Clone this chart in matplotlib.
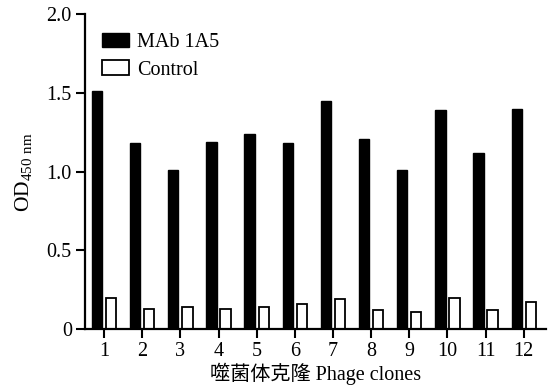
import matplotlib
matplotlib.use("Agg")
import matplotlib.pyplot as plt
import numpy as np

clones = [str(i) for i in range(1, 13)]
mab_1a5 = [1.51, 1.18, 1.01, 1.19, 1.24, 1.18, 1.45, 1.21, 1.01, 1.39, 1.12, 1.40]
control = [0.20, 0.13, 0.14, 0.13, 0.14, 0.16, 0.19, 0.12, 0.11, 0.20, 0.12, 0.17]
yticks = [0, 0.5, 1.0, 1.5, 2.0]
ytick_labels = ["0", "0.5", "1.0", "1.5", "2.0"]

plt.rcParams['font.family'] = ['Liberation Serif', 'Noto Sans CJK SC']
plt.rcParams['mathtext.fontset'] = 'custom'
plt.rcParams['mathtext.rm'] = 'Liberation Serif'

fig = plt.figure(figsize=(5.57, 3.92), dpi=100)
ax = fig.add_axes([0.1526, 0.16, 0.8274, 0.804])

x = np.arange(1, len(clones) + 1)
w = 0.27
off = 0.185
ax.bar(x - off, mab_1a5, width=w, color='black', edgecolor='black', linewidth=1.0, label='MAb 1A5')
ax.bar(x + off, control, width=w, color='white', edgecolor='black', linewidth=1.3, label='Control')

ax.set_xlim(0.5, 12.58)
ax.set_ylim(0, 2.0)
ax.set_xticks(x)
ax.set_xticklabels(clones)
ax.set_yticks(yticks)
ax.set_yticklabels(ytick_labels)

for s in ['top', 'right']:
    ax.spines[s].set_visible(False)
for s in ['left', 'bottom']:
    ax.spines[s].set_linewidth(1.6)
ax.tick_params(direction='out', length=6.5, width=1.5, labelsize=14.5, pad=3)

ax.set_xlabel('噬菌体克隆 Phage clones', fontsize=14.5, labelpad=1)
ax.set_ylabel(r'OD$_{\mathregular{450\ nm}}$', fontsize=15.5, labelpad=8)

leg = ax.legend(loc='upper left', bbox_to_anchor=(0.037, 0.94), frameon=False,
                fontsize=14.5, handlelength=1.35, handleheight=0.72,
                handletextpad=0.4, labelspacing=0.4, borderaxespad=0, borderpad=0)

fig.savefig('out.png', dpi=100)
